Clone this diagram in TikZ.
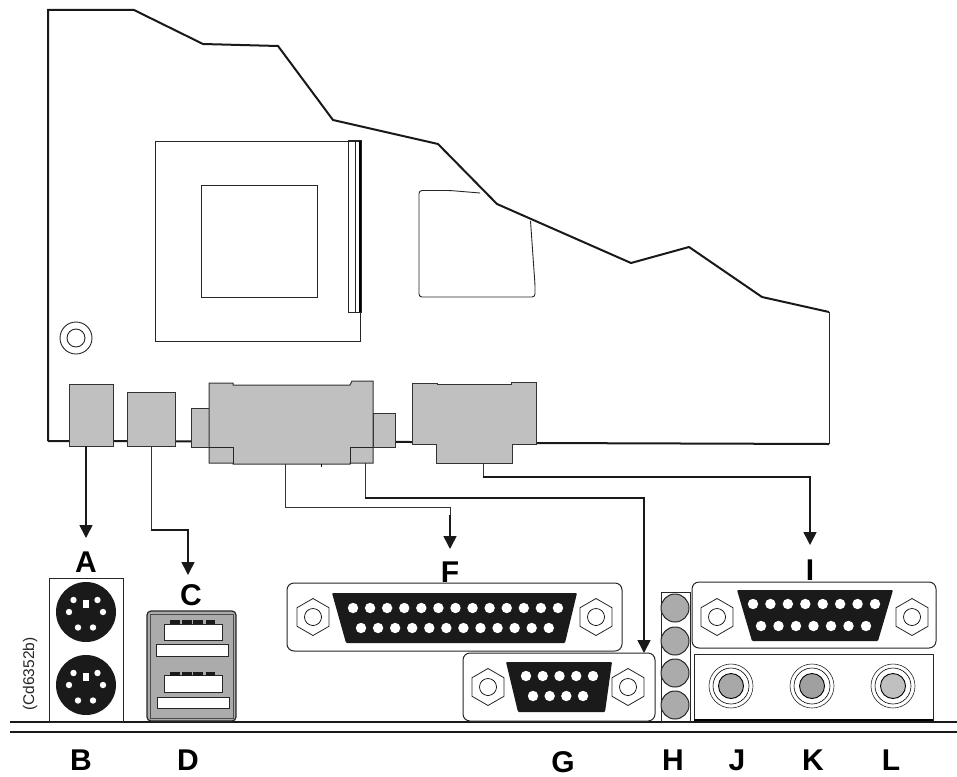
\documentclass[tikz,border=0pt]{standalone}
\usepackage{fontspec}
\setmainfont{Liberation Sans}
\usetikzlibrary{arrows.meta,shapes.geometric}
\definecolor{portgrey}{HTML}{C0C0C0}
\definecolor{ledgrey}{HTML}{ABABAB}
\definecolor{shellblack}{HTML}{1A1A1A}
\newcommand{\pinrow}[4]{\foreach \i in {0,...,#3} \fill[white] ({#1+\i*#2},#4) circle (5.2);}
\begin{document}
\begin{tikzpicture}[x=1pt,y=-1pt,line join=miter,
  every node/.style={inner sep=0pt,outer sep=0pt},
  letter/.style={font=\bfseries\fontsize{30}{30}\selectfont,anchor=base},
  fine/.style={draw=black!85,line width=.9pt},
  edge line/.style={draw=black!90,line width=2pt},
  portbox/.style={draw=black!80,line width=1pt,fill=portgrey,anchor=north west},
  port/.style={draw=black!80,line width=1pt,fill=portgrey},
  plate/.style={draw=black!85,line width=1pt,rounded corners=7pt,anchor=north west},
  shell/.style={fill=shellblack,rounded corners=1pt},
  nut/.style={draw=black!85,line width=.8pt,regular polygon,regular polygon sides=6,shape border rotate=30,minimum size=37pt},
  wire/.style={draw=black!90,line width=1.6pt},
  thin wire/.style={draw=black!80,line width=.9pt},
  pointer/.style={wire,-{Triangle[width=13pt,length=13pt]}},
  led/.style={draw=black!85,line width=1pt,fill=ledgrey,circle,minimum size=28pt}]
\useasboundingbox (0,0) rectangle (957,776);
% board edge
\draw[edge line] (48,441)--(48,10)--(134,10)--(203,44)--(278,46)--(333,120)--(438,144)--(497,204)--(631,263)--(689,247)--(762,297)--(829,312);
\draw[fine] (829,312)--(829,444);
\draw[edge line] (829,444)--(536,443);
\draw[edge line] (48,441)--(412,442);
% socket and chipset
\draw[fine] (155,141) rectangle (360,341);
\draw[fine] (201,185) rectangle (317,297);
\draw[fine] (348,140) rectangle (361,312);
\draw[fine] (355,140)--(355,312);
\draw[line width=2.4pt] (360,141)--(360,312);
\draw[fine,rounded corners=3pt] (480,193)--(450,190.5)--(419,190.5)--(419,297)--(535,297)--(535,285)--(530.5,221);
\draw[fine] (76,338) circle (16);
\draw[fine] (76,338) circle (9);
% ports on the board
\node[portbox,minimum width=44pt,minimum height=62pt] (kbd) at (69,384) {};
\node[portbox,minimum width=48pt,minimum height=54pt] (usb) at (127,392) {};
\node[portbox,minimum width=18pt,minimum height=39pt] (wingl) at (191,408) {};
\node[portbox,minimum width=22pt,minimum height=34pt] (wingr) at (373,413) {};
\draw[port] (209,383)--(233,383)--(233,385)--(350,385)--(352,381)--(373,381)--(373,463)--(350,463)--(350,464)--(233,464)--(233,463)--(209,463)--cycle;
\draw[fine] (209,447)--(233,447)--(233,464);
\draw[fine] (350,464)--(350,447)--(373,447);
\draw[line width=.7pt] (321,464)--(321,467);
\draw[port] (412,383)--(437,383)--(437,384)--(511,384)--(511,382)--(536,382)--(536,444)--(512,444)--(512,463)--(436,463)--(436,444)--(412,444)--cycle;
\coordinate (lpt) at (285,464);
\coordinate (com) at (365,463);
\coordinate (vga) at (483,463);
% back panel
\draw[edge line,line width=1.1pt] (10,722)--(957,722);
\draw[edge line,line width=1.1pt] (10,732)--(957,732);
\node[draw=black!85,line width=1pt,minimum width=74pt,minimum height=144pt,anchor=north west] (ps2) at (49,578) {};
\foreach \cy/\nm in {612/top,685/bot}{
  \fill[shellblack] (86,\cy) circle (30);
  \foreach \px/\py in {-12.5/-12,11.5/-12,-17/0,17/0,-8/15.5,7/15.5}
    \fill[white] (86+\px,\cy+\py) circle (3.2);
  \fill[white] (83,\cy-12.5) rectangle (89,\cy-4);
}
\draw[draw=black!85,fill=ledgrey,line width=1.2pt,rounded corners=4pt] (147,611) rectangle (236,721);
\draw[fine,draw=black!70] (150,614) rectangle (233,718);
\foreach \sx/\sy/\sw/\sh in {164/624/58/16,156/644/72/12,164/675/58/17,157/697/72/11}
  \draw[fine,fill=white] (\sx,\sy) rectangle ++(\sw,\sh);
\foreach \cy in {620,672}
  \foreach \cx/\cw in {170/10,182/10,193/10,206/9}
    \fill[shellblack] (\cx,\cy) rectangle ++(\cw,4);
% parallel
\node[plate,minimum width=335pt,minimum height=68pt] (parallel) at (287,583) {};
\fill[shell] (332,593)--(577,593)--(565,643)--(346,643)--cycle;
\pinrow{353}{17.08}{12}{608}
\pinrow{361}{17.07}{11}{628}
% serial
\node[plate,minimum width=192pt,minimum height=68pt,fill=white] (serial) at (463,653) {};
\fill[shell] (506,662)--(612,662)--(605,712)--(518,712)--cycle;
\pinrow{526}{16.75}{4}{676}
\pinrow{533}{16.67}{3}{696}
% game port
\node[plate,minimum width=244pt,minimum height=66pt] (game) at (692,582) {};
\fill[shell] (737,590)--(893,590)--(878,641)--(752,641)--cycle;
\pinrow{753}{17.43}{7}{604}
\pinrow{761}{17.5}{6}{626}
\foreach \nx/\ny in {313/617,596/617,488/687,628/687,717/617,912/617}{
  \node[nut] (nut\nx) at (\nx,\ny) {};
  \draw[line width=.7pt] (nut\nx.center) circle (8.5);
}
% indicators
\node[draw=black!85,line width=1pt,minimum width=29pt,minimum height=130pt,anchor=north west] (ledbar) at (661,592) {};
\foreach \ly in {608,641,673,705}
  \node[led] (led\ly) at (675,\ly) {};
% audio
\node[draw=black!85,line width=.9pt,minimum width=239pt,minimum height=66pt,anchor=north west] (audio) at (694,654) {};
\draw[line width=1.8pt] (audio.south west)--(audio.south east);
\foreach \jx/\jc in {731/A8A8A8,812/A0A0A0,893/C0C0C0}{
  \definecolor{jackfill}{HTML}{\jc}
  \node[circle,draw=black!85,line width=.6pt,minimum size=44pt] (jack\jx) at (\jx,686) {};
  \draw[line width=.6pt] (jack\jx.center) circle (18);
  \draw[line width=.9pt,fill=jackfill] (jack\jx.center) circle (12.5);
}
% letters
\node[letter] (a) at (86,572) {A};
\node[letter] (c) at (191,605) {C};
\node[letter] (f) at (450,582) {F};
\node[letter] (i) at (810,580) {I};
\node[letter] (b) at (81,770) {B};
\node[letter] (d) at (188,770) {D};
\node[letter] (g) at (563,772) {G};
\node[letter] (h) at (673,770) {H};
\node[letter] (j) at (737,770) {J};
\node[letter] (k) at (813,770) {K};
\node[letter] (l) at (891,770) {L};
\node[rotate=90,font=\fontsize{15.5}{16}\selectfont,text=black!85] (code) at (30,674) {(Cd6352b)};
% leader lines
\coordinate (tipa) at (86,538);
\coordinate (tipc) at (188,575);
\coordinate (tipf) at (450,549);
\coordinate (tipg) at (644,653);
\coordinate (tipi) at (810,545);
\draw[pointer] (tipa |- kbd.south)--(tipa);
\draw[thin wire] (usb.south)--++(0,84) coordinate (usbbend);
\draw[pointer] (usbbend)-|(tipc);
\draw[thin wire] (lpt)--++(0,43)-|(tipf |- 0,515) coordinate (lptbend);
\draw[pointer] (lptbend)--(tipf);
\draw[thin wire] (com)--++(0,35) coordinate (combend);
\draw[pointer] (combend)-|(tipg);
\draw[thin wire] (vga)--++(0,14) coordinate (vgabend);
\draw[pointer] (vgabend)-|(tipi);
\end{tikzpicture}
\end{document}
